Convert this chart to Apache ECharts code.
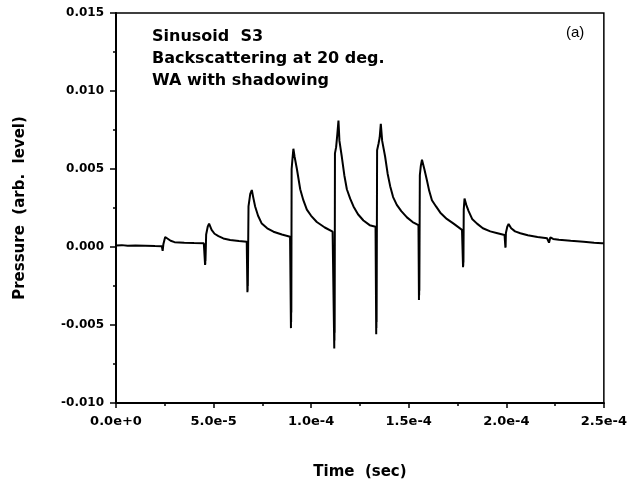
<!DOCTYPE html>
<html>
<head>
<meta charset="utf-8">
<script src="https://cdn.jsdelivr.net/npm/echarts@6/dist/echarts.min.js"></script>
<style>html,body{margin:0;padding:0;background:#fff;}#c{width:630px;height:485px;}</style>
</head>
<body>
<div id="c"></div>
<script>
// Time (s)
var times = [
  0, 0.3e-5, 0.6e-5, 1.0e-5, 1.5e-5, 2.0e-5, 2.35e-5,
  2.39e-5, 2.43e-5, 2.52e-5, 2.62e-5, 2.8e-5, 3.0e-5, 3.5e-5, 4.0e-5, 4.5e-5,
  4.56e-5, 4.565e-5, 4.57e-5, 4.575e-5, 4.58e-5, 4.585e-5, 4.62e-5, 4.70e-5, 4.77e-5, 4.9e-5, 5.05e-5, 5.25e-5, 5.5e-5, 5.85e-5, 6.3e-5, 6.7e-5,
  6.73e-5, 6.735e-5, 6.74e-5, 6.745e-5, 6.75e-5, 6.755e-5, 6.79e-5, 6.88e-5, 6.96e-5, 7.03e-5, 7.13e-5, 7.28e-5, 7.47e-5, 7.75e-5, 8.07e-5, 8.5e-5, 8.92e-5,
  8.96e-5, 8.965e-5, 8.97e-5, 8.975e-5, 8.98e-5, 8.985e-5, 9.0e-5, 9.04e-5, 9.09e-5, 9.15e-5, 9.27e-5, 9.44e-5, 9.6e-5, 9.78e-5, 10.0e-5, 10.29e-5, 10.7e-5, 11.1e-5,
  11.18e-5, 11.185e-5, 11.19e-5, 11.195e-5, 11.2e-5, 11.205e-5, 11.22e-5, 11.28e-5, 11.34e-5, 11.40e-5, 11.45e-5, 11.57e-5, 11.7e-5, 11.83e-5, 12.0e-5, 12.17e-5, 12.4e-5, 12.68e-5, 13.0e-5, 13.3e-5,
  13.33e-5, 13.335e-5, 13.34e-5, 13.345e-5, 13.35e-5, 13.355e-5, 13.38e-5, 13.45e-5, 13.51e-5, 13.57e-5, 13.64e-5, 13.79e-5, 13.92e-5, 14.05e-5, 14.2e-5, 14.39e-5, 14.62e-5, 14.91e-5, 15.2e-5, 15.5e-5,
  15.52e-5, 15.525e-5, 15.53e-5, 15.535e-5, 15.54e-5, 15.545e-5, 15.57e-5, 15.62e-5, 15.68e-5, 15.8e-5, 15.93e-5, 16.05e-5, 16.19e-5, 16.4e-5, 16.62e-5, 16.95e-5, 17.3e-5, 17.73e-5,
  17.78e-5, 17.785e-5, 17.79e-5, 17.795e-5, 17.8e-5, 17.805e-5, 17.82e-5, 17.86e-5, 17.95e-5, 18.07e-5, 18.25e-5, 18.5e-5, 18.8e-5, 19.18e-5, 19.5e-5, 19.91e-5,
  19.95e-5, 19.955e-5, 19.96e-5, 19.965e-5, 19.98e-5, 20.05e-5, 20.12e-5, 20.25e-5, 20.45e-5, 20.72e-5, 21.1e-5, 21.6e-5, 22.09e-5,
  22.17e-5, 22.19e-5, 22.26e-5, 22.4e-5, 22.7e-5, 23.3e-5, 23.96e-5, 24.5e-5, 24.9e-5, 25.0e-5
];
// Pressure (arb. level)
var pressure = [
  0.0001, 0.00012, 0.00008, 0.0001, 0.00008, 0.00006, 0.00005,
  -0.00025, 0.0002, 0.00064, 0.00055, 0.0004, 0.00031, 0.00027, 0.00025, 0.00024,
  0.00024, -0.00115, -0.0002, -0.0011, -0.0003, -0.0009, 0.0008, 0.0013, 0.0015, 0.0011, 0.00085, 0.0007, 0.00055, 0.00045, 0.00038, 0.00034,
  0.00034, -0.0029, -0.0008, -0.0028, -0.0009, -0.0025, 0.0026, 0.0034, 0.00365, 0.0032, 0.0026, 0.0020, 0.0015, 0.0012, 0.00098, 0.0008, 0.00066,
  0.00066, -0.0052, -0.0015, -0.0048, -0.0018, -0.0042, 0.0050, 0.0056, 0.0063, 0.0058, 0.0050, 0.0037, 0.0030, 0.0024, 0.0020, 0.0016, 0.00125, 0.00098,
  0.00095, -0.0065, -0.002, -0.006, -0.0025, -0.0055, 0.0060, 0.0064, 0.0072, 0.0081, 0.0068, 0.0058, 0.0046, 0.0037, 0.0031, 0.0026, 0.0021, 0.0017, 0.0014, 0.0013,
  0.0013, -0.0056, -0.0015, -0.0052, -0.002, -0.0048, 0.0062, 0.0066, 0.0070, 0.0079, 0.0068, 0.0058, 0.0047, 0.0039, 0.0032, 0.0027, 0.0023, 0.0019, 0.0016, 0.0014,
  0.0014, -0.0034, -0.0008, -0.0031, -0.001, -0.0028, 0.0046, 0.0052, 0.0056, 0.0050, 0.0043, 0.0036, 0.0030, 0.0026, 0.0022, 0.0018, 0.0015, 0.0011,
  0.0011, -0.0013, 0.0, -0.0012, 0.0001, -0.001, 0.0024, 0.0031, 0.0027, 0.0023, 0.0018, 0.0015, 0.0012, 0.001, 0.0009, 0.00077,
  0.00077, -0.00005, 0.0004, 0.0, 0.0009, 0.0013, 0.00147, 0.0012, 0.001, 0.00088, 0.00075, 0.00064, 0.00056,
  0.00056, 0.00028, 0.00062, 0.00052, 0.00046, 0.0004, 0.00034, 0.00028, 0.00024, 0.00024
];
var xTickLabels = ["0.0e+0", "5.0e-5", "1.0e-4", "1.5e-4", "2.0e-4", "2.5e-4"];
var yTickLabels = ["-0.010", "-0.005", "0.000", "0.005", "0.010", "0.015"];
var annotationLines = ["Sinusoid  S3", "Backscattering at 20 deg.", "WA with shadowing"];
var panelLabel = "(a)";

var pts = times.map(function (t, i) { return [t, pressure[i]]; });
var FONT = "DejaVu Sans";
var chart = echarts.init(document.getElementById('c'), null, {renderer: 'canvas'});
chart.setOption({
  animation: false,
  backgroundColor: '#fff',
  grid: {left: 116, right: 26, top: 13, bottom: 82, show: true, borderColor: '#000', borderWidth: 1.5, backgroundColor: 'transparent'},
  xAxis: {
    type: 'value', min: 0, max: 2.5e-4, interval: 5e-5,
    name: 'Time  (sec)', nameLocation: 'middle', nameGap: 62,
    nameTextStyle: {fontFamily: FONT, fontWeight: 'bold', fontSize: 15, color: '#000'},
    axisLine: {onZero: false, lineStyle: {color: '#000', width: 2}},
    axisTick: {show: true, length: 5, inside: false, lineStyle: {color: '#000', width: 1.5}},
    minorTick: {show: true, splitNumber: 2, length: 3, lineStyle: {color: '#000', width: 1.5}},
    splitLine: {show: false},
    axisLabel: {
      margin: 12, color: '#000', fontFamily: FONT, fontWeight: 'bold', fontSize: 13,
      formatter: function (v) { return xTickLabels[Math.round(v / 5e-5)]; }
    }
  },
  yAxis: {
    type: 'value', min: -0.01, max: 0.015, interval: 0.005,
    name: 'Pressure  (arb.  level)', nameLocation: 'middle', nameGap: 88, nameRotate: 90,
    nameTextStyle: {fontFamily: FONT, fontWeight: 'bold', fontSize: 15, color: '#000'},
    axisLine: {onZero: false, lineStyle: {color: '#000', width: 2}},
    axisTick: {show: true, length: 6, inside: false, lineStyle: {color: '#000', width: 1.5}},
    minorTick: {show: true, splitNumber: 2, length: 3, lineStyle: {color: '#000', width: 1.5}},
    splitLine: {show: false},
    axisLabel: {
      margin: 12, color: '#000', fontFamily: FONT, fontWeight: 'bold', fontSize: 12,
      formatter: function (v) { return yTickLabels[Math.round((v + 0.01) / 0.005)]; }
    }
  },
  graphic: [
    {type: 'text', left: 152, top: 29, style: {text: annotationLines[0], font: 'bold 16px "DejaVu Sans"', fill: '#000'}},
    {type: 'text', left: 152, top: 51, style: {text: annotationLines[1], font: 'bold 16px "DejaVu Sans"', fill: '#000'}},
    {type: 'text', left: 152, top: 73, style: {text: annotationLines[2], font: 'bold 16px "DejaVu Sans"', fill: '#000'}},
    {type: 'text', left: 566, top: 25, style: {text: panelLabel, font: '15px "Liberation Sans"', fill: '#000'}}
  ],
  series: [{
    type: 'line', data: pts, showSymbol: false, symbol: 'none',
    lineStyle: {color: '#000', width: 2}, smooth: false
  }]
});
</script>
</body>
</html>
